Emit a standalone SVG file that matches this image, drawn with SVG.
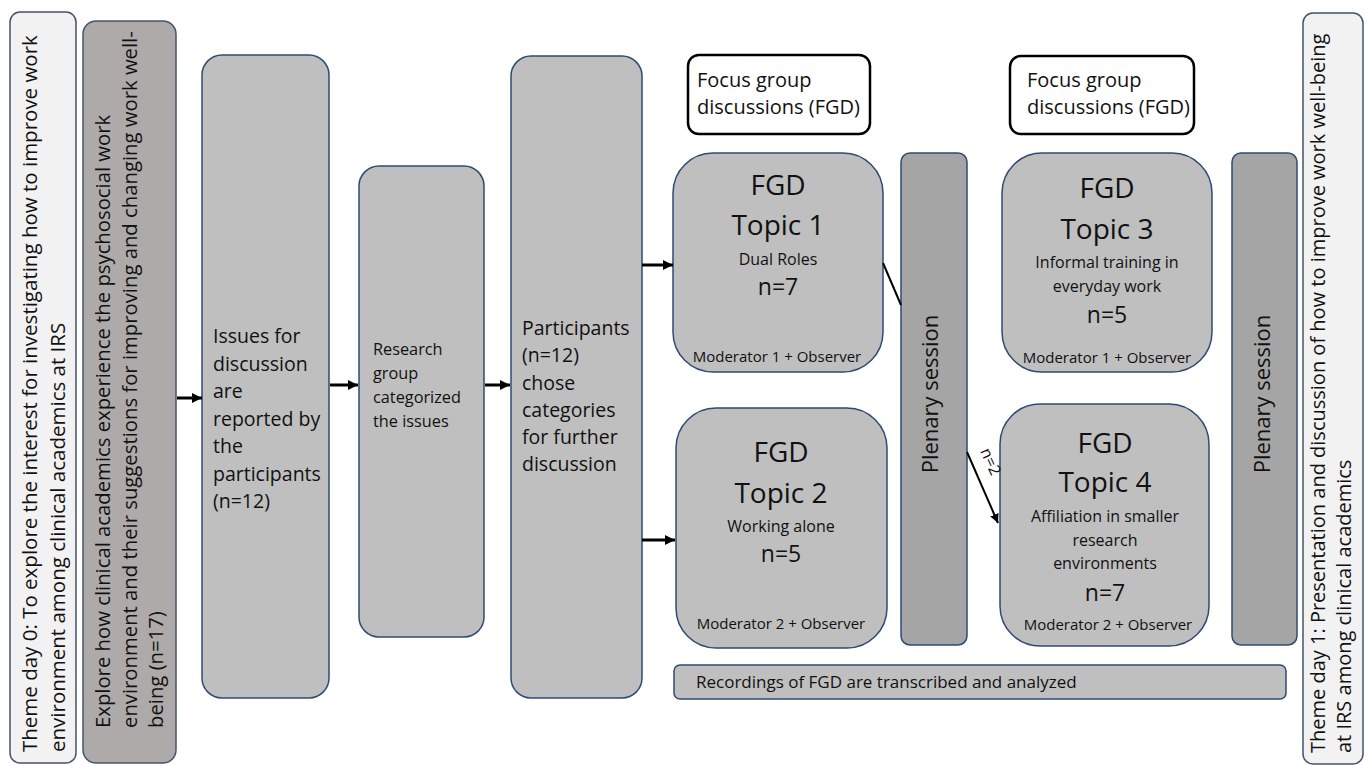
<svg xmlns="http://www.w3.org/2000/svg" width="1368" height="765" viewBox="0 0 1368 765">
<defs>
<style>
text{font-family:"Open Sans","Noto Sans",sans-serif;fill:#111}
.theme{fill:#f2f2f2;stroke:#44546a;stroke-width:1.5}
.explore{fill:#aeaaaa;stroke:#44546a;stroke-width:1.5}
.box{fill:#bfbfbf;stroke:#2f4b73;stroke-width:1.5}
.plen{fill:#a5a5a5;stroke:#2f4b73;stroke-width:1.5}
.fg{fill:#fff;stroke:#000;stroke-width:2.5}
.t19{font-size:19.5px}
.tv{font-size:20.3px}
.t20{font-size:20px}
.t16{font-size:16.3px}
.big{font-size:28px;text-anchor:middle}
.sub{font-size:16px;text-anchor:middle}
.n{font-size:23px;text-anchor:middle}
.mod{font-size:15px;text-anchor:middle}
.pl{font-size:22px;text-anchor:middle}
.arr{stroke:#000;stroke-width:3;fill:none;marker-end:url(#ah)}
.thin{stroke:#000;stroke-width:2;fill:none}
</style>
<marker id="ah" markerUnits="userSpaceOnUse" markerWidth="10" markerHeight="10" refX="10" refY="5" orient="auto">
<path d="M0,0 L10,5 L0,10 z" fill="#000"/>
</marker>
<marker id="ah2" markerUnits="userSpaceOnUse" markerWidth="9" markerHeight="9" refX="9" refY="4.5" orient="auto">
<path d="M0,0 L9,4.5 L0,9 z" fill="#000"/>
</marker>
</defs>

<g id="theme0">
<rect class="theme" x="10" y="12" width="66" height="751" rx="10"/>
<text class="tv" style="font-size:20.5px" transform="translate(37,752) rotate(-90)">Theme day 0: To explore the interest for investigating how to improve work</text>
<text class="tv" style="font-size:20.5px" transform="translate(65,752) rotate(-90)">environment among clinical academics at IRS</text>
</g>

<g id="explore">
<rect class="explore" x="83" y="21" width="93" height="742" rx="13"/>
<text class="tv" transform="translate(110,728) rotate(-90)">Explore how clinical academics experience the psychosocial work</text>
<text class="tv" transform="translate(137,728) rotate(-90)">environment and their suggestions for improving and changing work well-</text>
<text class="tv" transform="translate(163,728) rotate(-90)">being (n=17)</text>
</g>

<g id="issues">
<rect class="box" x="202" y="55" width="127" height="643" rx="20"/>
<text class="t19" x="213" y="343">Issues for</text>
<text class="t19" x="213" y="370.5">discussion</text>
<text class="t19" x="213" y="398">are</text>
<text class="t19" x="213" y="425.5">reported by</text>
<text class="t19" x="213" y="453">the</text>
<text class="t19" x="213" y="480.5">participants</text>
<text class="t19" x="213" y="508">(n=12)</text>
</g>

<g id="research">
<rect class="box" x="359" y="166" width="125" height="471" rx="20"/>
<text class="t16" x="373" y="355">Research</text>
<text class="t16" x="373" y="379">group</text>
<text class="t16" x="373" y="403">categorized</text>
<text class="t16" x="373" y="427">the issues</text>
</g>

<g id="participants">
<rect class="box" x="511" y="56" width="131" height="642" rx="20"/>
<text class="t19" x="522" y="335">Participants</text>
<text class="t19" x="522" y="362">(n=12)</text>
<text class="t19" x="522" y="389.5">chose</text>
<text class="t19" x="522" y="417">categories</text>
<text class="t19" x="522" y="444">for further</text>
<text class="t19" x="522" y="471">discussion</text>
</g>

<g id="focus1">
<rect class="fg" x="688" y="55" width="182" height="79" rx="11"/>
<text class="t20" x="697" y="87">Focus group</text>
<text class="t20" x="697" y="114">discussions (FGD)</text>
</g>

<g id="focus2">
<rect class="fg" x="1010" y="56" width="184" height="78" rx="11"/>
<text class="t20" x="1027" y="87">Focus group</text>
<text class="t20" x="1027" y="114">discussions (FGD)</text>
</g>

<g id="topic1">
<rect class="box" x="673" y="153" width="210" height="219" rx="40"/>
<text class="big" x="778" y="195">FGD</text>
<text class="big" x="778" y="235">Topic 1</text>
<text class="sub" x="778" y="265">Dual Roles</text>
<text class="n" x="778" y="295">n=7</text>
<text class="mod" x="777" y="362">Moderator 1 + Observer</text>
</g>

<g id="topic2">
<rect class="box" x="676" y="408" width="211" height="240" rx="40"/>
<text class="big" x="781" y="462">FGD</text>
<text class="big" x="781" y="503">Topic 2</text>
<text class="sub" x="781" y="532">Working alone</text>
<text class="n" x="781" y="562">n=5</text>
<text class="mod" x="781" y="629">Moderator 2 + Observer</text>
</g>

<g id="plenary1">
<rect class="plen" x="901" y="153" width="66" height="492" rx="9"/>
<text class="pl" transform="translate(938,394) rotate(-90)">Plenary session</text>
</g>

<g id="topic3">
<rect class="box" x="1002" y="153" width="210" height="219" rx="40"/>
<text class="big" x="1107" y="198">FGD</text>
<text class="big" x="1107" y="239">Topic 3</text>
<text class="sub" x="1107" y="268">Informal training in</text>
<text class="sub" x="1107" y="292">everyday work</text>
<text class="n" x="1107" y="323">n=5</text>
<text class="mod" x="1107" y="363">Moderator 1 + Observer</text>
</g>

<g id="topic4">
<rect class="box" x="1000" y="404" width="209" height="242" rx="40"/>
<text class="big" x="1105" y="453">FGD</text>
<text class="big" x="1105" y="492">Topic 4</text>
<text class="sub" x="1105" y="522">Affiliation in smaller</text>
<text class="sub" x="1105" y="546">research</text>
<text class="sub" x="1105" y="569">environments</text>
<text class="n" x="1105" y="601">n=7</text>
<text class="mod" x="1108" y="630">Moderator 2 + Observer</text>
</g>

<g id="plenary2">
<rect class="plen" x="1232" y="153" width="65" height="492" rx="9"/>
<text class="pl" transform="translate(1270,394) rotate(-90)">Plenary session</text>
</g>

<g id="recordings">
<rect class="box" x="674" y="665" width="612" height="34" rx="6"/>
<text x="696" y="688" style="font-size:17px">Recordings of FGD are transcribed and analyzed</text>
</g>

<g id="theme1">
<rect class="theme" x="1303" y="13" width="60" height="751" rx="10"/>
<text class="tv" style="font-size:20px" transform="translate(1325,753) rotate(-90)">Theme day 1: Presentation and discussion of how to improve work well-being</text>
<text class="tv" style="font-size:20px" transform="translate(1351,753) rotate(-90)">at IRS among clinical academics</text>
</g>

<g id="connectors">
<line class="arr" x1="177" y1="398" x2="202" y2="398"/>
<line class="arr" x1="330" y1="385" x2="358" y2="385"/>
<line class="arr" x1="485" y1="385" x2="510" y2="385"/>
<line class="arr" x1="642" y1="265" x2="673" y2="265"/>
<line class="arr" x1="642" y1="540" x2="675" y2="540"/>
<line class="thin" x1="883" y1="263" x2="901" y2="305"/>
<line class="thin" x1="967" y1="452" x2="998" y2="523" marker-end="url(#ah2)"/>
<text transform="translate(980,451) rotate(66)" style="font-size:16px">n=2</text>
</g>
</svg>
